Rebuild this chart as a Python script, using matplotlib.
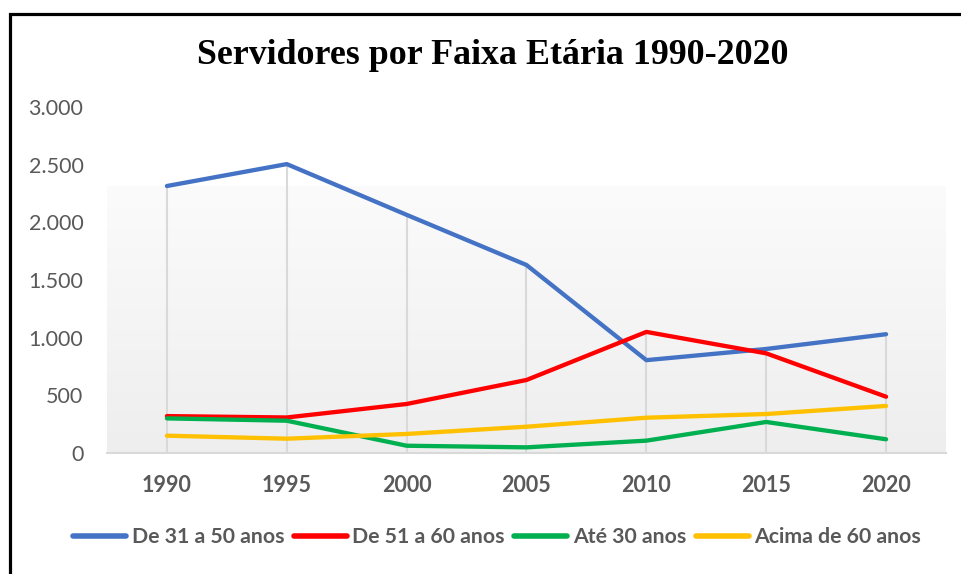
import matplotlib
matplotlib.use("Agg")
import matplotlib.pyplot as plt
import numpy as np
from matplotlib.ticker import FuncFormatter
from matplotlib.patches import Rectangle
from matplotlib.colors import LinearSegmentedColormap

years = ["1990", "1995", "2000", "2005", "2010", "2015", "2020"]
de31a50 = [2315, 2505, 2065, 1630, 805, 902, 1030]
de51a60 = [320, 308, 425, 633, 1050, 864, 488]
ate30 = [300, 280, 63, 49, 107, 269, 119]
acima60 = [150, 124, 165, 228, 306, 338, 408]

series_names = ["De 31 a 50 anos", "De 51 a 60 anos", "Até 30 anos", "Acima de 60 anos"]
series_vals = [de31a50, de51a60, ate30, acima60]
colors = ["#4472C4", "#FF0000", "#00B050", "#FFC000"]

title = "Servidores por Faixa Etária 1990-2020"
yticks = [0, 500, 1000, 1500, 2000, 2500, 3000]
grad_top = 2315

W, H = 962, 574
fig = plt.figure(figsize=(W / 100, H / 100), dpi=100)
ax = fig.add_axes([107 / W, 1 - 453 / H, (946 - 107) / W, (453 - 107) / H])

x = np.arange(len(years))

# gradient plot-area background (gray at bottom, near-white at top)
grad = np.linspace(0, 1, 256).reshape(-1, 1)
cmap = LinearSegmentedColormap.from_list("g", ["#eeeeee", "#fbfbfb"])
ax.imshow(grad, aspect="auto", cmap=cmap, extent=(-0.5, len(years) - 0.5, 0, grad_top),
          origin="lower", zorder=0)

# drop lines
tops = np.max(np.array(series_vals), axis=0)
ax.vlines(x, 0, tops, colors="#d9d9d9", linewidth=1.5, zorder=1)

lines = []
for vals, c, n in zip(series_vals, colors, series_names):
    ln, = ax.plot(x, vals, color=c, lw=3.1, solid_capstyle="round", label=n, zorder=3)
    lines.append(ln)

ax.set_xlim(-0.5, len(years) - 0.5)
ax.set_ylim(0, 3000)
ax.set_yticks(yticks)
ax.yaxis.set_major_formatter(FuncFormatter(lambda v, p: f"{int(v):,}".replace(",", ".")))
ax.set_xticks(x)
ax.set_xticklabels(years)

for s in ["top", "right", "left"]:
    ax.spines[s].set_visible(False)
ax.spines["bottom"].set_color("#d9d9d9")
ax.spines["bottom"].set_linewidth(1.5)
ax.tick_params(axis="both", length=0)
ax.tick_params(axis="y", pad=17)
ax.tick_params(axis="x", pad=16)
for lab in ax.get_yticklabels():
    lab.set_fontfamily("Lato")
    lab.set_fontsize(15.5)
    lab.set_color("#595959")
for lab in ax.get_xticklabels():
    lab.set_fontfamily("Lato")
    lab.set_fontsize(15.5)
    lab.set_fontweight("bold")
    lab.set_color("#595959")

fig.text(493 / W, 1 - 55 / H, title, ha="center", va="center",
         fontfamily="Liberation Serif", fontweight="bold", fontsize=25.8, color="black")

leg = fig.legend(handles=lines, labels=series_names, loc="center", ncol=4,
                 bbox_to_anchor=(497 / W, 1 - 537 / H), frameon=False,
                 handlelength=2.5, handletextpad=0.25, columnspacing=0.45,
                 prop={"family": "Lato", "weight": "bold", "size": 15.3})
for t in leg.get_texts():
    t.set_color("#595959")
for h in leg.legend_handles:
    h.set_linewidth(4)

# outer border (only left & top visible)
fig.patches.append(Rectangle((9.5 / W, -0.1), 2.0, 1 - 13.5 / H + 0.1,
                             transform=fig.transFigure, fill=False,
                             edgecolor="black", linewidth=2.3))

fig.savefig("out.png", dpi=100)
